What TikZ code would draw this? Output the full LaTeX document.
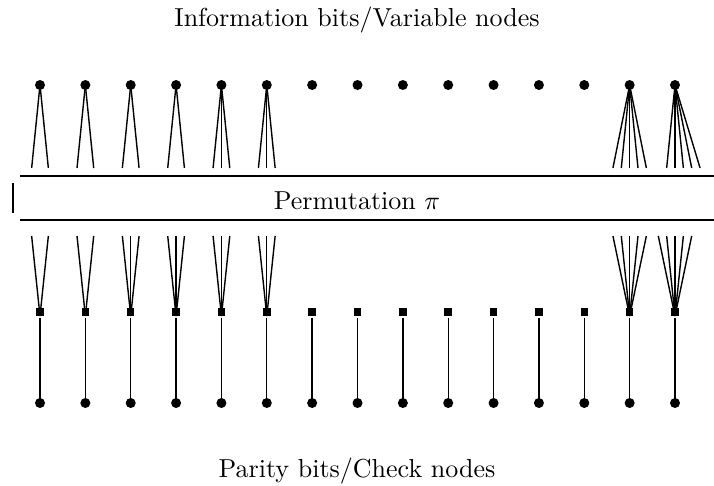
\documentclass[tikz,border=0pt]{standalone}
\begin{document}
\begin{tikzpicture}[x=1pt,y=-1pt,
  vdot/.style={circle,fill=black,inner sep=0pt,minimum size=10pt},
  cbox/.style={rectangle,fill=black,inner sep=0pt,minimum size=7.5pt},
  edge/.style={line width=1.4pt},
  rail/.style={line width=1.5pt},
  lbl/.style={scale=2.6,anchor=base,inner sep=0pt}]
\useasboundingbox (0,0) rectangle (714,485);
\def\dd{8.35}
% titles
\node[lbl] (top) at (357,26) {Information bits/Variable nodes};
\node[lbl] (bot) at (357,477) {Parity bits/Check nodes};
% permutation
\node[lbl] (perm) at (357,209) {Permutation $\pi$};
\coordinate (pl1) at (20,176); \coordinate (pr1) at (714,176);
\coordinate (pl2) at (20,220); \coordinate (pr2) at (714,220);
\draw[rail] (pl1) -- (pr1);
\draw[rail] (pl2) -- (pr2);
\coordinate (bara) at (13,183); \coordinate (barb) at (13,213);
\draw[rail] (bara) -- (barb);
% columns
\foreach \i in {1,...,15}{
  \pgfmathsetmacro{\xx}{40+45.357*(\i-1)}
  \coordinate (tv\i) at (\xx,85);
  \coordinate (tc\i) at (\xx,312);
  \coordinate (tp\i) at (\xx,403);
}
% top fans
\foreach \i/\offs in {1/{-1,1},2/{-1,1},3/{-1,1},4/{-1,1},5/{-1,0,1},6/{-1,0,1},14/{-2,-1,0,1,2},15/{-1,0,1,2,3}}{
  \foreach \o in \offs {
    \draw[edge] (tv\i) -- ++(\o*\dd,83);
  }
}
% bottom fans
\foreach \i/\offs in {1/{-1,1},2/{-1,1},3/{-1,0,1},4/{-1,0,1},5/{-1,0,1},6/{-1,0,1},14/{-2,-1,0,1,2},15/{-2,-1,0,1,2}}{
  \foreach \o in \offs {
    \draw[edge] ([yshift=-4pt]tc\i) -- ++(\o*\dd,-80);
  }
}
% nodes
\foreach \i in {1,...,15}{
  \node[vdot] (v\i) at (tv\i) {};
  \node[cbox] (c\i) at (tc\i) {};
  \node[vdot] (p\i) at (tp\i) {};
  \draw[edge,shorten <=2pt] (c\i.south) -- (p\i.center);
}
\end{tikzpicture}
\end{document}
